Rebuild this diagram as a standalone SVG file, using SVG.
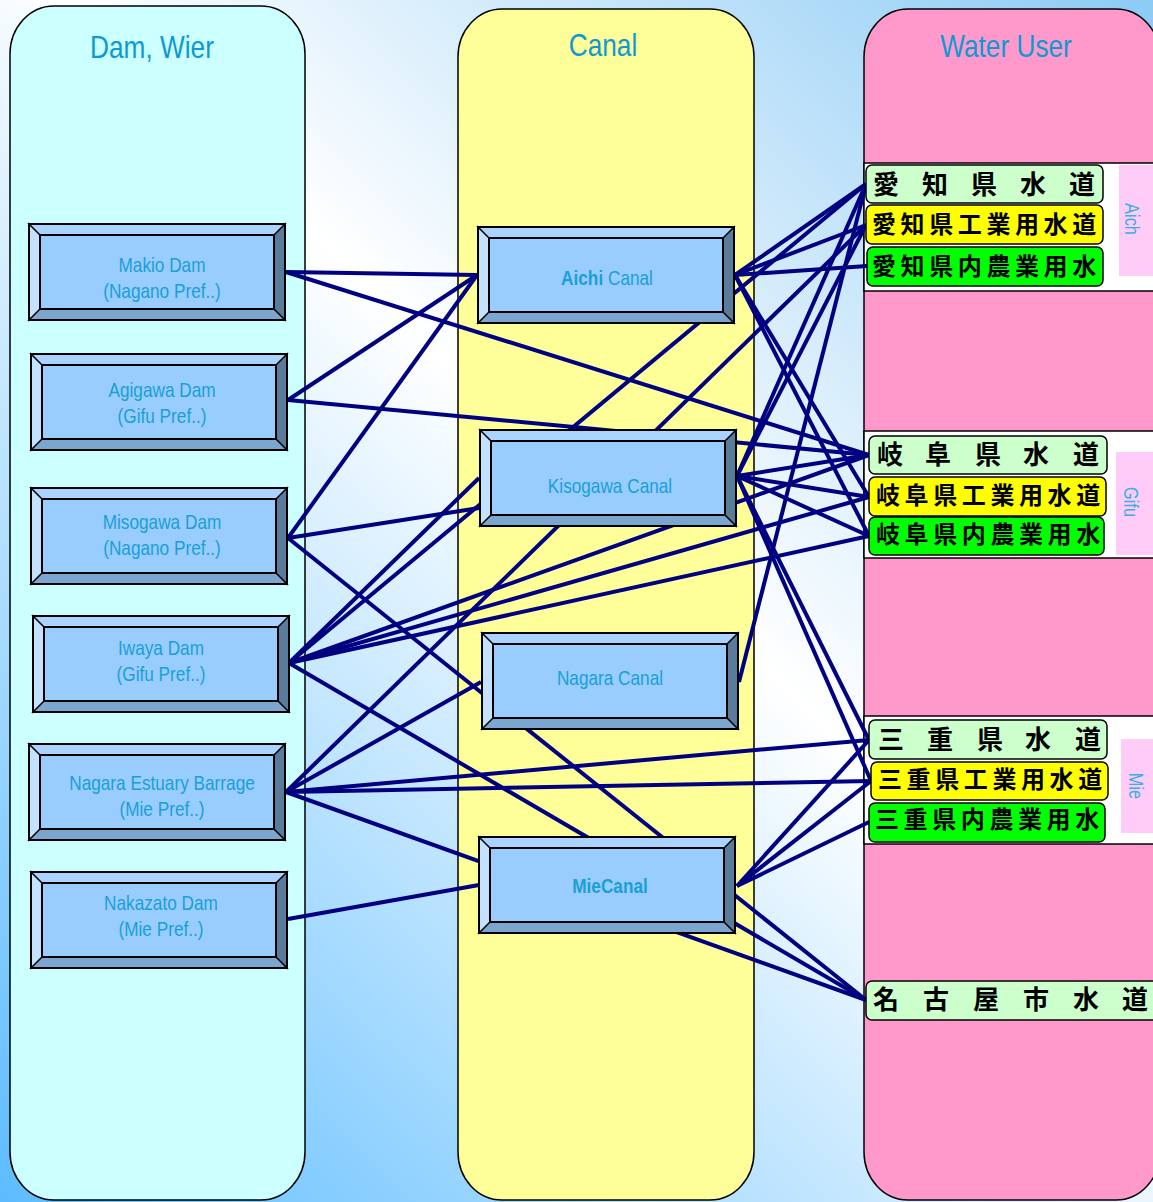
<svg xmlns="http://www.w3.org/2000/svg" width="1153" height="1202" viewBox="0 0 1153 1202">
  <defs>
    <linearGradient id="bg" gradientUnits="userSpaceOnUse" x1="0" y1="1202" x2="1153" y2="0">
      <stop offset="0" stop-color="#5cbcff"/>
      <stop offset="0.55" stop-color="#ffffff"/>
      <stop offset="1" stop-color="#8ccbf5"/>
    </linearGradient>
    <!-- bevelled button used by every dam and canal node -->
    <g id="bevel">
      <rect x="0" y="0" width="258" height="98" fill="#99ccff"/>
      <polygon points="0,0 258,0 246,12 12,12" fill="#aad4ff"/>
      <polygon points="0,0 12,12 12,86 0,98" fill="#c4e2ff"/>
      <polygon points="258,0 258,98 246,86 246,12" fill="#5b7b9b"/>
      <polygon points="0,98 12,86 246,86 258,98" fill="#7aa6cf"/>
      <rect x="12" y="12" width="234" height="74" fill="#99ccff" stroke="#000" stroke-width="2"/>
      <path d="M0,0 L12,12 M258,0 L246,12 M0,98 L12,86 M258,98 L246,86" stroke="#000" stroke-width="1.5"/>
      <rect x="1" y="1" width="256" height="96" fill="none" stroke="#000" stroke-width="2"/>
    </g>
    <style>
      .panel { stroke: #000; stroke-width: 1.5; }
      .head { font-family: "Liberation Sans", Arial, sans-serif; font-size: 32px; fill: #0d99d3; text-anchor: middle; }
      .lbl { font-family: "Liberation Sans", Arial, sans-serif; font-size: 21px; fill: #19a0d6; text-anchor: middle; }
      .bold { font-weight: bold; }
      .band { fill: #ffffff; stroke: #000; stroke-width: 1.5; }
      .pref { fill: #ffccf7; }
      .vlbl { font-family: "Liberation Sans", Arial, sans-serif; font-size: 20px; fill: #3aaee6; text-anchor: middle; dominant-baseline: central; }
      .row { stroke: #000; stroke-width: 1.5; }
      .w1 { fill: #ccffcc; }
      .w2 { fill: #ffff00; }
      .w3 { fill: #00ff00; }
      .jp { font-family: "Noto Sans CJK JP", "Noto Sans CJK SC", sans-serif; font-weight: bold; fill: #000; }
      .jp26 { font-size: 26px; }
      .jp24 { font-size: 24px; letter-spacing: 4.6px; }
      .links line { stroke: #000080; stroke-width: 4; }
    </style>
  </defs>

  <!-- background -->
  <rect x="0" y="0" width="1153" height="1202" fill="url(#bg)"/>

  <!-- column panels -->
  <rect class="panel" x="10" y="6" width="295" height="1194" rx="44" ry="48" fill="#ccffff"/>
  <rect class="panel" x="458" y="9" width="296" height="1191" rx="44" ry="48" fill="#ffff99"/>
  <rect class="panel" x="864" y="9" width="296" height="1191" rx="44" ry="48" fill="#ff99cc"/>

  <!-- condensed headings: narrow lettering made by a horizontal 0.82 scale -->
  <text class="head" transform="matrix(0.82 0 0 1 152 0)" x="0" y="58">Dam, Wier</text>
  <text class="head" transform="matrix(0.82 0 0 1 603 0)" x="0" y="56">Canal</text>
  <text class="head" transform="matrix(0.82 0 0 1 1006 0)" x="0" y="57">Water User</text>

  <!-- prefecture bands in the water user column -->
  <g id="band-aichi">
    <rect class="band" x="864" y="163" width="296" height="128"/>
    <rect class="pref" x="1119" y="165" width="40" height="111"/>
    <text class="vlbl" transform="translate(1132,219) rotate(90) scale(0.82,1)">Aich</text>
  </g>
  <g id="band-gifu">
    <rect class="band" x="864" y="431" width="296" height="127"/>
    <rect class="pref" x="1116" y="452" width="44" height="103"/>
    <text class="vlbl" transform="translate(1131,502) rotate(90) scale(0.82,1)">Gifu</text>
  </g>
  <g id="band-mie">
    <rect class="band" x="864" y="716" width="296" height="128"/>
    <rect class="pref" x="1121" y="739" width="40" height="94"/>
    <text class="vlbl" transform="translate(1136,786) rotate(90) scale(0.82,1)">Mie</text>
  </g>

  <!-- connectors -->
  <g id="connectors" class="links">
    <line x1="286" y1="272" x2="477" y2="275"/>
    <line x1="286" y1="272" x2="869" y2="455"/>
    <line x1="288" y1="400" x2="477" y2="275"/>
    <line x1="288" y1="400" x2="869" y2="455"/>
    <line x1="288" y1="538" x2="477" y2="275"/>
    <line x1="288" y1="538" x2="479" y2="508"/>
    <line x1="288" y1="538" x2="866" y2="1000"/>
    <line x1="289" y1="663" x2="479" y2="478"/>
    <line x1="289" y1="663" x2="866" y2="184"/>
    <line x1="289" y1="663" x2="869" y2="455"/>
    <line x1="289" y1="663" x2="869" y2="497"/>
    <line x1="289" y1="663" x2="869" y2="536"/>
    <line x1="289" y1="663" x2="866" y2="1000"/>
    <line x1="286" y1="792" x2="866" y2="225"/>
    <line x1="286" y1="792" x2="481" y2="682"/>
    <line x1="286" y1="792" x2="869" y2="740"/>
    <line x1="286" y1="792" x2="871" y2="781"/>
    <line x1="286" y1="792" x2="866" y2="1000"/>
    <line x1="288" y1="919" x2="479" y2="885"/>
    <line x1="735" y1="275" x2="866" y2="184"/>
    <line x1="735" y1="275" x2="866" y2="225"/>
    <line x1="735" y1="275" x2="867" y2="266"/>
    <line x1="735" y1="275" x2="869" y2="497"/>
    <line x1="735" y1="275" x2="869" y2="536"/>
    <line x1="737" y1="476" x2="866" y2="184"/>
    <line x1="737" y1="476" x2="866" y2="225"/>
    <line x1="737" y1="476" x2="869" y2="455"/>
    <line x1="737" y1="476" x2="869" y2="497"/>
    <line x1="737" y1="476" x2="869" y2="536"/>
    <line x1="737" y1="476" x2="869" y2="740"/>
    <line x1="737" y1="476" x2="871" y2="781"/>
    <line x1="739" y1="682" x2="866" y2="184"/>
    <line x1="737" y1="886" x2="869" y2="740"/>
    <line x1="737" y1="886" x2="871" y2="781"/>
    <line x1="737" y1="886" x2="869" y2="822"/>
  </g>

  <!-- dams and weirs -->
  <g id="node-makio">
    <use href="#bevel" x="28" y="223"/>
    <text class="lbl" transform="matrix(0.82 0 0 1 162 0)" x="0" y="272">Makio Dam</text>
    <text class="lbl" transform="matrix(0.82 0 0 1 162 0)" x="0" y="298">(Nagano Pref..)</text>
  </g>
  <g id="node-agigawa">
    <use href="#bevel" x="30" y="353"/>
    <text class="lbl" transform="matrix(0.82 0 0 1 162 0)" x="0" y="397">Agigawa Dam</text>
    <text class="lbl" transform="matrix(0.82 0 0 1 162 0)" x="0" y="423">(Gifu Pref..)</text>
  </g>
  <g id="node-misogawa">
    <use href="#bevel" x="30" y="487"/>
    <text class="lbl" transform="matrix(0.82 0 0 1 162 0)" x="0" y="529">Misogawa Dam</text>
    <text class="lbl" transform="matrix(0.82 0 0 1 162 0)" x="0" y="555">(Nagano Pref..)</text>
  </g>
  <g id="node-iwaya">
    <use href="#bevel" x="32" y="615"/>
    <text class="lbl" transform="matrix(0.82 0 0 1 161 0)" x="0" y="655">Iwaya Dam</text>
    <text class="lbl" transform="matrix(0.82 0 0 1 161 0)" x="0" y="681">(Gifu Pref..)</text>
  </g>
  <g id="node-nagara-barrage">
    <use href="#bevel" x="28" y="743"/>
    <text class="lbl" transform="matrix(0.82 0 0 1 162 0)" x="0" y="790">Nagara Estuary Barrage</text>
    <text class="lbl" transform="matrix(0.82 0 0 1 162 0)" x="0" y="816">(Mie Pref..)</text>
  </g>
  <g id="node-nakazato">
    <use href="#bevel" x="30" y="871"/>
    <text class="lbl" transform="matrix(0.82 0 0 1 161 0)" x="0" y="910">Nakazato Dam</text>
    <text class="lbl" transform="matrix(0.82 0 0 1 161 0)" x="0" y="936">(Mie Pref..)</text>
  </g>

  <!-- canals -->
  <g id="node-aichi-canal">
    <use href="#bevel" x="477" y="226"/>
    <text class="lbl" transform="matrix(0.82 0 0 1 607 0)" x="0" y="285"><tspan class="bold">Aichi</tspan> Canal</text>
  </g>
  <g id="node-kisogawa-canal">
    <use href="#bevel" x="479" y="429"/>
    <text class="lbl" transform="matrix(0.82 0 0 1 610 0)" x="0" y="493">Kisogawa Canal</text>
  </g>
  <g id="node-nagara-canal">
    <use href="#bevel" x="481" y="632"/>
    <text class="lbl" transform="matrix(0.82 0 0 1 610 0)" x="0" y="685">Nagara Canal</text>
  </g>
  <g id="node-mie-canal">
    <use href="#bevel" x="478" y="836"/>
    <text class="lbl bold" transform="matrix(0.82 0 0 1 610 0)" x="0" y="893">MieCanal</text>
  </g>

  <!-- water users -->
  <g id="user-aichi-water">
    <rect class="row w1" x="866" y="165" width="237" height="38" rx="6"/>
    <text class="jp jp26" x="873 922 971 1020 1069" y="194">愛知県水道</text>
  </g>
  <g id="user-aichi-industry">
    <rect class="row w2" x="866" y="205" width="237" height="39" rx="6"/>
    <text class="jp jp24" x="872" y="233">愛知県工業用水道</text>
  </g>
  <g id="user-aichi-farm">
    <rect class="row w3" x="867" y="247" width="236" height="39" rx="6"/>
    <text class="jp jp24" x="872" y="275">愛知県内農業用水</text>
  </g>
  <g id="user-gifu-water">
    <rect class="row w1" x="869" y="436" width="238" height="38" rx="6"/>
    <text class="jp jp26" x="877 925 975 1023 1073" y="464">岐阜県水道</text>
  </g>
  <g id="user-gifu-industry">
    <rect class="row w2" x="869" y="477" width="237" height="39" rx="6"/>
    <text class="jp jp24" x="876" y="504">岐阜県工業用水道</text>
  </g>
  <g id="user-gifu-farm">
    <rect class="row w3" x="869" y="517" width="235" height="38" rx="6"/>
    <text class="jp jp24" x="876" y="543">岐阜県内農業用水</text>
  </g>
  <g id="user-mie-water">
    <rect class="row w1" x="869" y="720" width="238" height="39" rx="6"/>
    <text class="jp jp26" x="878 927 977 1025 1075" y="749">三重県水道</text>
  </g>
  <g id="user-mie-industry">
    <rect class="row w2" x="871" y="762" width="237" height="38" rx="6"/>
    <text class="jp jp24" x="878" y="788">三重県工業用水道</text>
  </g>
  <g id="user-mie-farm">
    <rect class="row w3" x="869" y="803" width="236" height="39" rx="6"/>
    <text class="jp jp24" x="875" y="828">三重県内農業用水</text>
  </g>
  <g id="user-nagoya-water">
    <rect class="row w1" x="866" y="981" width="300" height="39" rx="6"/>
    <text class="jp jp26" x="873 923 973 1023 1073 1122" y="1009">名古屋市水道</text>
  </g>
</svg>
